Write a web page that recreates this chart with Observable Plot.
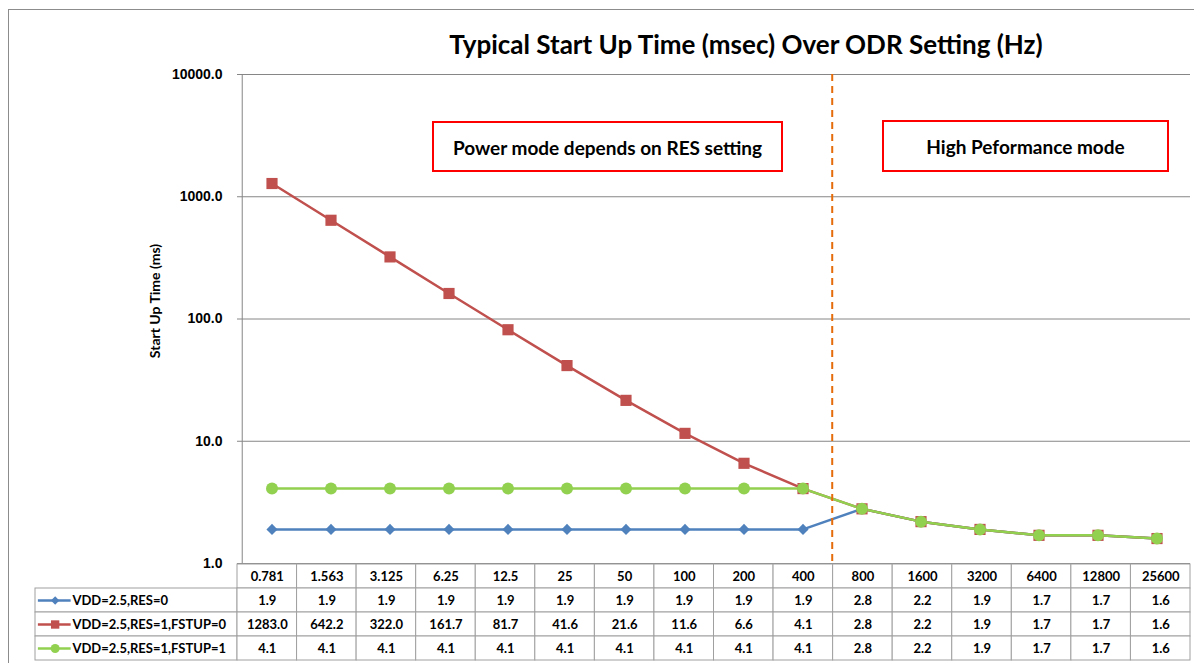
<!DOCTYPE html>
<html><head><meta charset="utf-8">
<script src="https://cdn.jsdelivr.net/npm/d3@7"></script>
<script src="https://cdn.jsdelivr.net/npm/@observablehq/plot@0.6"></script>
<style>
html,body{margin:0;padding:0;background:#fff;}
#chart{position:relative;width:1194px;height:663px;overflow:hidden;background:#fff;}
#border{position:absolute;left:8px;top:9px;width:1400px;height:800px;border-left:1px solid #8c8c8c;border-top:1px solid #8c8c8c;}
#title{position:absolute;left:0;width:1492px;top:31px;text-align:center;font:bold 26px Lato;line-height:26px;color:#000;white-space:nowrap;}
#ylabel{position:absolute;left:155px;top:301px;transform:translate(-50%,-50%) rotate(-90deg);font:bold 14px Lato;line-height:14px;color:#000;white-space:nowrap;}
.note{position:absolute;box-sizing:border-box;border:2.5px solid #ff0000;background:#fff;display:flex;align-items:center;justify-content:center;font:bold 19px Lato;color:#000;white-space:nowrap;padding-top:1px;}
.plot{position:absolute;left:0;}
</style>
</head><body>
<div id="chart">
  <div id="border"></div>
  <div id="main" class="plot" style="top:0"></div>
  <div id="table" class="plot" style="top:562px"></div>
  <div id="title">Typical Start Up Time (msec) Over ODR Setting (Hz)</div>
  <div id="ylabel"></div>
  <div class="note" style="left:432px;top:121px;width:351px;height:51px;">Power mode depends on RES setting</div>
  <div class="note" style="left:882px;top:120px;width:287px;height:52px;">High Peformance mode</div>
</div>
<script>
// ---- data ----
const odr = ["0.781","1.563","3.125","6.25","12.5","25","50","100","200","400","800","1600","3200","6400","12800","25600"];
const seriesNames = ["VDD=2.5,RES=0","VDD=2.5,RES=1,FSTUP=0","VDD=2.5,RES=1,FSTUP=1"];
const res0 = [1.9,1.9,1.9,1.9,1.9,1.9,1.9,1.9,1.9,1.9,2.8,2.2,1.9,1.7,1.7,1.6];
const res1Fstup0 = [1283.0,642.2,322.0,161.7,81.7,41.6,21.6,11.6,6.6,4.1,2.8,2.2,1.9,1.7,1.7,1.6];
const res1Fstup1 = [4.1,4.1,4.1,4.1,4.1,4.1,4.1,4.1,4.1,4.1,2.8,2.2,1.9,1.7,1.7,1.6];
const yTicks = [1,10,100,1000,10000];
const modeSplit = "800"; // first High Performance ODR
const yLabel = "Start Up Time (ms)";
document.getElementById("ylabel").textContent = yLabel;

const colors = ["#4F81BD","#C0504D","#92D050"];
const symbols = ["diamond2","square","circle"];
const radii = [5,6.3,6];

const seriesValues = [res0, res1Fstup0, res1Fstup1];
const series = seriesNames.map((name,k)=>({
  name, k, row:"s"+k,
  points: odr.map((o,i)=>({odr:o, i, v: seriesValues[k][i]}))
}));

// ---- layout ----
const W = 1194;
const mL = 237, mR = 4;
const bw = (W - mL - mR) / odr.length;
const legW = (mL - 35) / bw;
const font = "Lato";

// ---- main chart ----
const mainMarks = [
  Plot.gridY(yTicks, {stroke:"#868686", strokeOpacity:1}),
  Plot.ruleX([odr[0]], {x:d=>d, dx:-bw/2, stroke:"#868686"}),
  Plot.axisY(yTicks, {tickFormat:d=>d.toFixed(1), tickSize:0, tickPadding:15,
    fontFamily:"Liberation Sans", fontWeight:"bold", fontSize:14, fill:"#000", label:null})
];
for (const s of series) {
  mainMarks.push(Plot.line(s.points, {x:"odr", y:"v", stroke:colors[s.k], strokeWidth:2.5}));
}
for (const s of series) {
  mainMarks.push(Plot.dot(s.points, {x:"odr", y:"v", symbol:symbols[s.k], r:radii[s.k], fill:colors[s.k], stroke:"none"}));
}
mainMarks.push(Plot.ruleX([modeSplit], {x:d=>d, dx:-bw/2, stroke:"#E46C0A", strokeWidth:2, strokeDasharray:"7,5"}));

const main = Plot.plot({
  width: W, height: 580,
  marginTop: 74, marginBottom: 17, marginLeft: mL, marginRight: mR,
  x: {type:"band", domain: odr, padding: 0, axis: null},
  y: {type:"log", domain:[1,10000], axis: null},
  marks: mainMarks
});
document.getElementById("main").appendChild(main);

// ---- data table ----
const rows = ["hdr", ...series.map(s=>s.row)];
const cells = [
  ...odr.map((o,i)=>({row:"hdr", x1:i, x2:i+1})),
  ...series.flatMap(s=>[{row:s.row, x1:-legW, x2:0}, ...odr.map((o,i)=>({row:s.row, x1:i, x2:i+1}))])
];
const texts = [
  ...odr.map((o,i)=>({row:"hdr", i, t:o})),
  ...series.flatMap(s=>s.points.map(p=>({row:s.row, i:p.i, t:p.v.toFixed(1)})))
];
const tableMarks = [
  Plot.barX(cells, {x1:"x1", x2:"x2", y:"row", fill:"#fff", stroke:"#a0a0a0", inset:0}),
  Plot.text(texts, {x:d=>d.i+0.5, y:"row", text:"t", fontFamily:font, fontWeight:"bold", fontSize:13, fill:"#000"}),
  Plot.link(series, {x1:d=>-legW+0.04, x2:d=>-legW+0.59, y1:"row", y2:"row", stroke:d=>colors[d.k], strokeWidth:2.5}),
];
for (const s of series) {
  tableMarks.push(Plot.dot([s], {x:d=>-legW+0.33, y:"row", symbol:symbols[s.k], r:radii[s.k]*0.75, fill:colors[s.k], stroke:"none"}));
}
tableMarks.push(Plot.text(series, {x:d=>-legW+0.62, y:"row", text:"name", textAnchor:"start",
  fontFamily:font, fontWeight:"bold", fontSize:13, fill:"#000"}));

const table = Plot.plot({
  width: W, height: 101,
  marginTop: 1, marginBottom: 3, marginLeft: 35, marginRight: mR,
  x: {type:"linear", domain:[-legW, odr.length], axis:null},
  y: {type:"band", domain: rows, padding: 0, axis:null},
  marks: tableMarks
});
document.getElementById("table").appendChild(table);
</script>
</body></html>
